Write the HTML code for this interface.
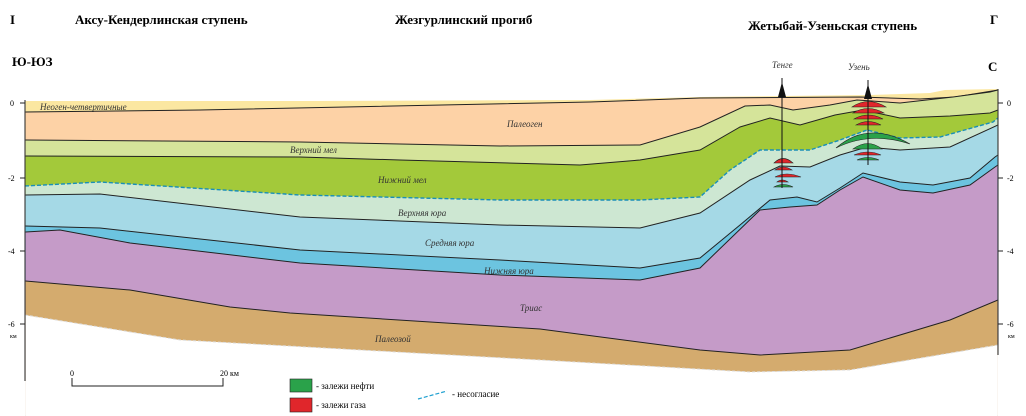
<!DOCTYPE html>
<html><head><meta charset="utf-8"><style>
body{margin:0;background:#fff;width:1026px;height:416px;overflow:hidden}
svg{display:block;font-family:"Liberation Serif",serif}
.h{font-weight:bold;font-size:13px}
.l{font-style:italic;font-size:9px;fill:#333}
.t{font-size:8px}
</style></head><body>
<svg width="1026" height="416" viewBox="0 0 1026 416">
<defs><clipPath id="c"><rect x="25.6" y="0" width="971.8" height="416"/></clipPath></defs>
<g clip-path="url(#c)">
<polygon fill="#fbe7a1" points="25,101 300,101 590,100 700,97 870,95 930,93 945,90 998,89 998,416 25,416"/>
<polygon fill="#fdd2a6" stroke="#222" stroke-width="1" points="25,112 200,110 590,102 700,98 860,97 920,99 955,97 998,90 998,416 25,416"/>
<polygon fill="#d5e49a" stroke="#222" stroke-width="1" points="25,140 300,142 500,146 640,145 700,127 745,106 770,105 793,110 830,105 857,100 900,103 953,97 990,92 998,90 998,416 25,416"/>
<polygon fill="#a3c93a" stroke="#222" stroke-width="1" points="25,156 300,157 400,160 580,165 640,160 700,150 740,127 770,118 800,125 835,115 863,110 900,118 950,116 990,113 998,110 998,416 25,416"/>
<polygon fill="#cde7d2" points="25,186 100,182 300,195 500,200 640,200 700,197 730,170 760,150 810,150 840,140 867,130 900,138 940,137 993,122 998,118 998,416 25,416"/>
<polyline fill="none" stroke="#1a8fb8" stroke-width="1.4" stroke-dasharray="4,2" points="25,186 100,182 300,195 500,200 640,200 700,197 730,170 760,150 810,150 840,140 867,130 900,138 940,137 993,122 998,118"/>
<polygon fill="#a5d9e6" stroke="#222" stroke-width="1" points="25,195 100,194 300,217 500,225 640,228 700,213 750,180 780,166 810,167 840,155 867,147 900,150 950,147 998,125 998,416 25,416"/>
<polygon fill="#6cc4e0" stroke="#222" stroke-width="1" points="25,226 100,228 300,250 500,260 640,268 700,258 740,225 770,200 797,197 817,202 840,188 863,173 900,182 933,185 970,178 995,157 998,155 998,416 25,416"/>
<polygon fill="#c59bc8" stroke="#222" stroke-width="1" points="25,232 60,230 130,243 300,263 500,275 640,280 700,268 760,210 790,207 817,205 840,190 863,177 900,190 933,193 970,185 995,167 998,165 998,416 25,416"/>
<polygon fill="#d4ab6e" stroke="#222" stroke-width="1" points="25,281 130,290 230,307 290,313 540,329 700,350 760,355 850,350 950,320 998,300 998,416 25,416"/>
<polygon fill="#fff" points="25,315 180,340 540,360 750,372 850,370 998,345 998,416 25,416"/>
<polyline fill="none" stroke="#ddd" stroke-width="1" stroke-dasharray="3,2" points="25,315 180,340 540,360 750,372 850,370 998,345"/>
</g>
<g stroke="#222" stroke-width="0.6">
<path fill="#e0262b" d="M852,107 Q868,96 886,107 Z"/>
<path fill="#e0262b" d="M853,113 Q868,104 884,113 Z"/>
<path fill="#e0262b" d="M854,119 Q868,111 883,119 Z"/>
<path fill="#e0262b" d="M856,125 Q868,118 881,125 Z"/>
<path fill="#2aa24a" d="M836,148 Q868,120 910,144 Q870,131 836,148 Z"/>
<path fill="#2aa24a" d="M853,149 Q868,138 882,149 Z"/>
<path fill="#e0262b" d="M854,155 Q868,149 881,155 Z"/>
<path fill="#2aa24a" d="M857,160 Q868,155 879,160 Z"/>
<path fill="#e0262b" d="M774,163 Q783,154 793,163 Z"/>
<path fill="#e0262b" d="M775,170 Q783,164 792,170 Z"/>
<path fill="#e0262b" d="M775,177 Q786,171 801,177 Z"/>
<path fill="#e0262b" d="M777,182 Q782,178 788,182 Z"/>
<path fill="#2aa24a" d="M774,187 Q783,182 793,187 Z"/>
</g>
<line x1="782" y1="78" x2="782" y2="188" stroke="#111" stroke-width="1"/>
<polygon points="778,97 782,82 786,97" fill="#111"/>
<line x1="868" y1="80" x2="868" y2="165" stroke="#111" stroke-width="1"/>
<polygon points="864,99 868,84 872,99" fill="#111"/>
<text x="772" y="68" class="l">Тенге</text>
<text x="848" y="70" class="l">Узень</text>
<line x1="25" y1="100" x2="25" y2="381" stroke="#222"/>
<line x1="998" y1="89" x2="998" y2="355" stroke="#222"/>
<g stroke="#222"><line x1="20" y1="103" x2="25" y2="103"/><line x1="20" y1="178" x2="25" y2="178"/><line x1="20" y1="251" x2="25" y2="251"/><line x1="20" y1="324" x2="25" y2="324"/>
<line x1="998" y1="103" x2="1003" y2="103"/><line x1="998" y1="178" x2="1003" y2="178"/><line x1="998" y1="251" x2="1003" y2="251"/><line x1="998" y1="324" x2="1003" y2="324"/></g>
<g class="t"><text x="10" y="106">0</text><text x="8" y="181">-2</text><text x="8" y="254">-4</text><text x="8" y="327">-6</text><text x="10" y="338" font-size="6">км</text>
<text x="1007" y="106">0</text><text x="1007" y="181">-2</text><text x="1007" y="254">-4</text><text x="1007" y="327">-6</text><text x="1008" y="338" font-size="6">км</text></g>
<text x="10" y="24" class="h">I</text>
<text x="75" y="24" class="h">Аксу-Кендерлинская ступень</text>
<text x="395" y="24" class="h">Жезгурлинский прогиб</text>
<text x="748" y="30" class="h">Жетыбай-Узеньская ступень</text>
<text x="990" y="24" class="h">Г</text>
<text x="12" y="66" class="h" font-size="15">Ю-ЮЗ</text>
<text x="988" y="71" class="h" font-size="16">С</text>
<text x="40" y="110" class="l">Неоген-четвертичные</text>
<text x="507" y="127" class="l">Палеоген</text>
<text x="290" y="153" class="l">Верхний мел</text>
<text x="378" y="183" class="l">Нижний мел</text>
<text x="398" y="216" class="l">Верхняя юра</text>
<text x="425" y="246" class="l">Средняя юра</text>
<text x="484" y="274" class="l">Нижняя юра</text>
<text x="520" y="311" class="l">Триас</text>
<text x="375" y="342" class="l">Палеозой</text>
<text x="70" y="376" class="t" font-size="7">0</text>
<text x="220" y="376" class="t" font-size="7">20 км</text>
<polyline fill="none" stroke="#222" points="72,378 72,386 223,386 223,378"/>
<rect x="290" y="379" width="22" height="13" fill="#2aa24a" stroke="#222" stroke-width="0.6"/>
<text x="316" y="389" font-size="9">- залежи нефти</text>
<rect x="290" y="398" width="22" height="14" fill="#e0262b" stroke="#222" stroke-width="0.6"/>
<text x="316" y="408" font-size="9">- залежи газа</text>
<line x1="418" y1="399" x2="447" y2="391" stroke="#1fa0d0" stroke-width="1.2" stroke-dasharray="4,2"/>
<text x="452" y="397" font-size="9">- несогласие</text>
</svg>
</body></html>
